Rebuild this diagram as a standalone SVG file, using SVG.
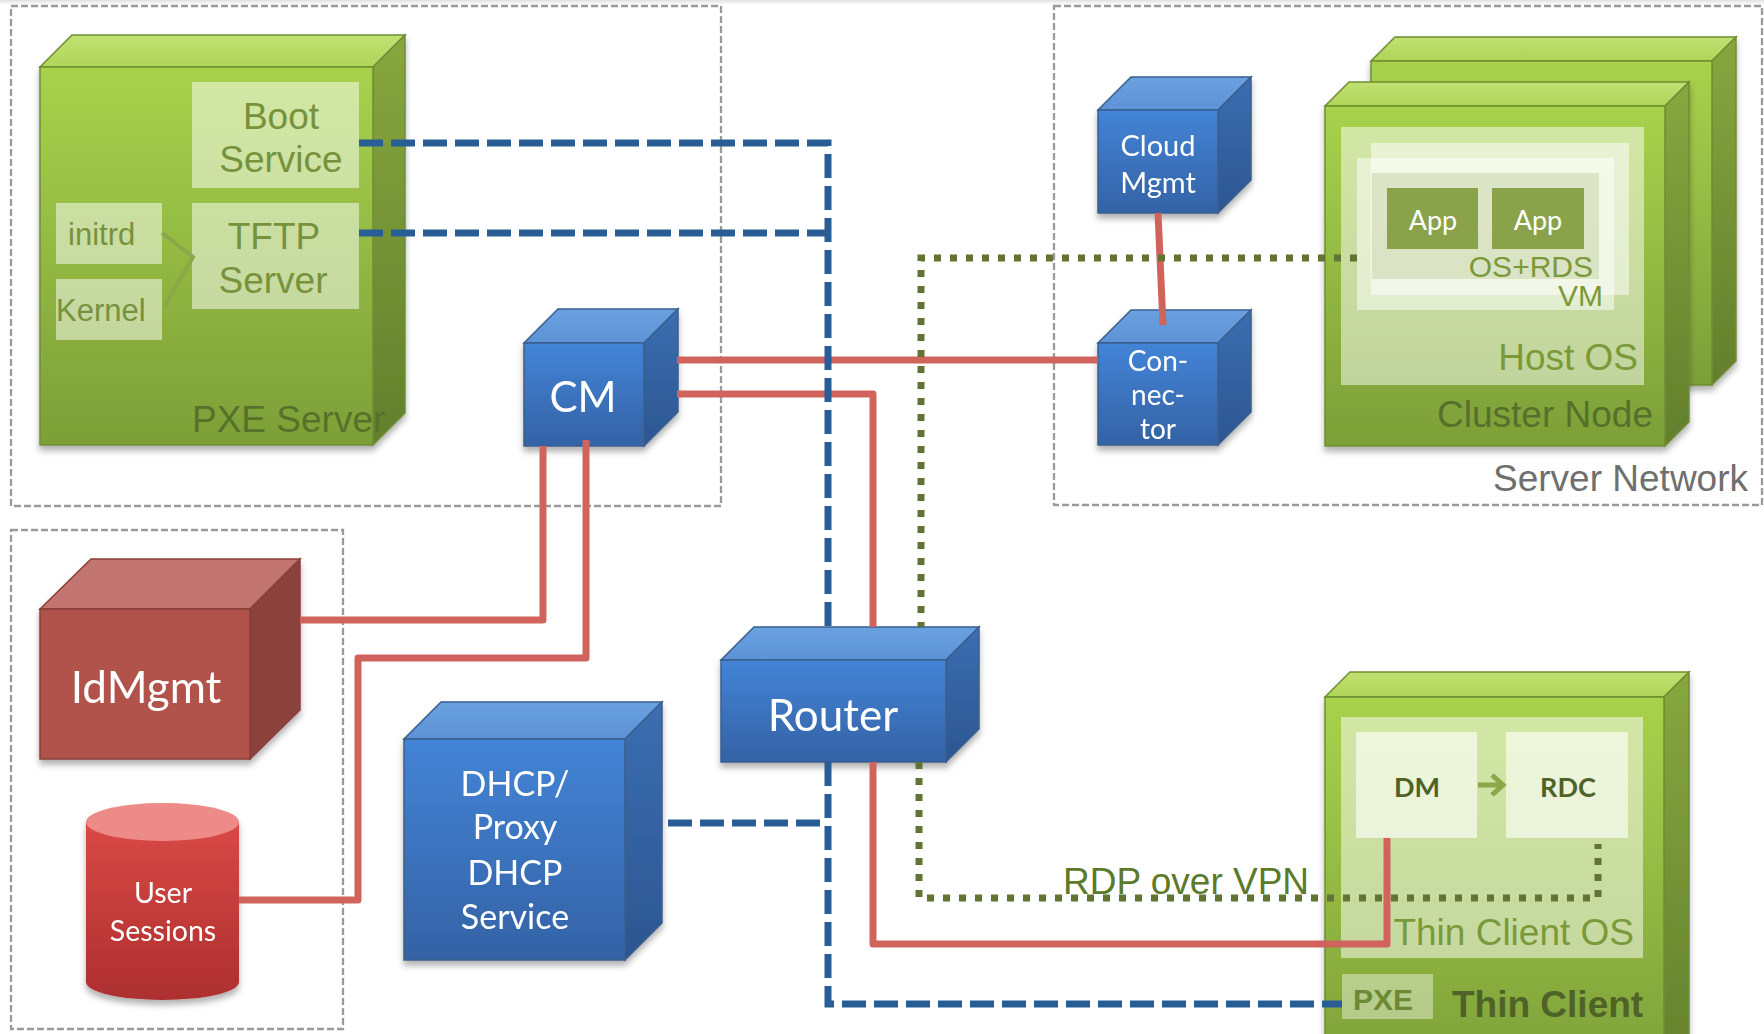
<svg xmlns="http://www.w3.org/2000/svg" width="1764" height="1034" viewBox="0 0 1764 1034">
<defs>
<linearGradient id="bF" x1="0" y1="0" x2="0" y2="1"><stop offset="0" stop-color="#4384d6"/><stop offset="1" stop-color="#3462a5"/></linearGradient>
<linearGradient id="bT" x1="0" y1="0" x2="0" y2="1"><stop offset="0" stop-color="#6aa1e0"/><stop offset="1" stop-color="#5d93d6"/></linearGradient>
<linearGradient id="bR" x1="0" y1="0" x2="0" y2="1"><stop offset="0" stop-color="#3b6eb1"/><stop offset="1" stop-color="#2c5690"/></linearGradient>
<linearGradient id="gF" x1="0" y1="0" x2="0" y2="1"><stop offset="0" stop-color="#a8d24c"/><stop offset="1" stop-color="#7c9f38"/></linearGradient>
<linearGradient id="gT" x1="0" y1="0" x2="0" y2="1"><stop offset="0" stop-color="#c0e173"/><stop offset="1" stop-color="#afd557"/></linearGradient>
<linearGradient id="gR" x1="0" y1="0" x2="0" y2="1"><stop offset="0" stop-color="#87a73f"/><stop offset="1" stop-color="#627f2c"/></linearGradient>
<linearGradient id="cyl" x1="0" y1="0" x2="0" y2="1"><stop offset="0" stop-color="#d94946"/><stop offset="1" stop-color="#ad2f2f"/></linearGradient>
<linearGradient id="topband" x1="0" y1="0" x2="0" y2="1"><stop offset="0" stop-color="#e2e2e2"/><stop offset="1" stop-color="#ffffff"/></linearGradient>
<filter id="sh" x="-10%" y="-10%" width="125%" height="125%"><feDropShadow dx="0" dy="5" stdDeviation="3" flood-color="#000" flood-opacity="0.3"/></filter>
<style>
.region{fill:none;stroke:#9a9a9a;stroke-width:2.3;stroke-dasharray:7 3}
.bl .t{fill:url(#bT)} .bl .f{fill:url(#bF)} .bl .r{fill:url(#bR)}
.bl polygon,.bl rect.f{stroke:#3a5e8e;stroke-width:1.5}
.gr .t{fill:url(#gT)} .gr .f{fill:url(#gF)} .gr .r{fill:url(#gR)}
.gr polygon,.gr rect.f{stroke:#6f8d35;stroke-width:1.5}
.wt{font-family:Lato,"Open Sans","DejaVu Sans",sans-serif;fill:#ffffff;text-anchor:middle}
.ar{font-family:"Liberation Sans",Arial,sans-serif}
.lite{fill:#ffffff;fill-opacity:0.5}
.blue{fill:none;stroke:#285d95;stroke-width:7;stroke-dasharray:24 8}
.red{fill:none;stroke:#d0645c;stroke-width:7;stroke-linejoin:round}
.grn{fill:none;stroke:#617433;stroke-width:7;stroke-dasharray:7 9}
</style>
</defs>
<rect width="1764" height="1034" fill="#ffffff"/>
<rect width="1764" height="5" fill="url(#topband)"/>

<g id="regions">
<rect class="region" x="11" y="6" width="710" height="500"/>
<rect class="region" x="1054" y="6" width="708" height="499"/>
<rect class="region" x="11" y="530" width="332" height="499"/>
</g>

<g id="pxe-server" class="gr" filter="url(#sh)">
<polygon class="t" points="40,67 72,35 405,35 373,67"/>
<polygon class="r" points="373,67 405,35 405,413 373,445"/>
<rect class="f" x="40" y="67" width="333" height="378"/>
</g>
<g id="pxe-server-content">
<rect class="lite" x="192" y="82" width="167" height="106"/>
<rect class="lite" x="192" y="203" width="167" height="106"/>
<rect class="lite" x="56" y="203" width="106" height="61"/>
<rect class="lite" x="56" y="279" width="106" height="61"/>
<polyline points="162,233 193,257 164,307" fill="none" stroke="#8aa84a" stroke-width="4"/>
<g class="ar" fill="#76923c" font-size="37" text-anchor="middle">
<text x="281" y="129">Boot</text><text x="281" y="172">Service</text>
<text x="274" y="249">TFTP</text><text x="273" y="293">Server</text>
</g>
<g class="ar" fill="#76923c" font-size="31">
<text x="68" y="245">initrd</text><text x="56" y="321">Kernel</text>
</g>
<text class="ar" x="192" y="432" font-size="37" fill="#56722a">PXE Server</text>
</g>

<g id="cm" class="bl" filter="url(#sh)">
<polygon class="t" points="524,343 558,309 678,309 644,343"/>
<polygon class="r" points="644,343 678,309 678,412 644,446"/>
<rect class="f" x="524" y="343" width="120" height="103"/>
<text class="wt" x="583" y="412" font-size="42">CM</text>
</g>

<g id="cloud-mgmt" class="bl" filter="url(#sh)">
<polygon class="t" points="1098,110 1131,77 1251,77 1218,110"/>
<polygon class="r" points="1218,110 1251,77 1251,180 1218,213"/>
<rect class="f" x="1098" y="110" width="120" height="103"/>
<text class="wt" x="1158" y="156" font-size="29">Cloud</text>
<text class="wt" x="1158" y="193" font-size="29">Mgmt</text>
</g>

<g id="connector" class="bl" filter="url(#sh)">
<polygon class="t" points="1098,343 1131,310 1251,310 1218,343"/>
<polygon class="r" points="1218,343 1251,310 1251,412 1218,445"/>
<rect class="f" x="1098" y="343" width="120" height="102"/>
<text class="wt" x="1158" y="371" font-size="28">Con-</text>
<text class="wt" x="1158" y="405" font-size="28">nec-</text>
<text class="wt" x="1158" y="439" font-size="28">tor</text>
</g>

<g id="cluster-node-back" class="gr" filter="url(#sh)">
<polygon class="t" points="1371,61 1395,37 1736,37 1712,61"/>
<polygon class="r" points="1712,61 1736,37 1736,361 1712,385"/>
<rect class="f" x="1371" y="61" width="341" height="324"/>
</g>
<g id="cluster-node" class="gr" filter="url(#sh)">
<polygon class="t" points="1325,106 1349,82 1689,82 1665,106"/>
<polygon class="r" points="1665,106 1689,82 1689,422 1665,446"/>
<rect class="f" x="1325" y="106" width="340" height="340"/>
</g>
<g id="cluster-node-content">
<rect class="lite" x="1341" y="127" width="303" height="258"/>
<rect class="lite" x="1371" y="143" width="258" height="152"/>
<rect class="lite" x="1357" y="158" width="257" height="152"/>
<rect x="1372" y="173" width="227" height="106" fill="#c6d4a6" fill-opacity="0.55"/>
<rect x="1387" y="188" width="91" height="61" fill="#8aa24a"/>
<rect x="1492" y="188" width="92" height="61" fill="#8aa24a"/>
<text class="wt" x="1433" y="230" font-size="27">App</text>
<text class="wt" x="1538" y="230" font-size="27">App</text>
<g class="ar" fill="#7a9a3a" text-anchor="end">
<text x="1593" y="277" font-size="30">OS+RDS</text>
<text x="1603" y="306" font-size="30">VM</text>
<text x="1638" y="370" font-size="37">Host OS</text>
</g>
<text class="ar" x="1653" y="427" font-size="37" fill="#56702a" text-anchor="end">Cluster Node</text>
<text class="ar" x="1748" y="491" font-size="37" fill="#6f6f6f" text-anchor="end">Server Network</text>
</g>

<g id="idmgmt" filter="url(#sh)">
<polygon points="40,609 91,559 300,559 250,609" fill="#c27570" stroke="#8a3f3a" stroke-width="1.5"/>
<polygon points="250,609 300,559 300,710 250,759" fill="#8b433d" stroke="#8a3f3a" stroke-width="1.5"/>
<rect x="40" y="609" width="210" height="150" fill="#b1524b" stroke="#8a3f3a" stroke-width="1.5"/>
<text class="wt" x="146" y="703" font-size="44">IdMgmt</text>
</g>

<g id="user-sessions" filter="url(#sh)">
<path d="M86,822 V982 A76.5,18 0 0 0 239,982 V822 Z" fill="url(#cyl)"/>
<ellipse cx="162.5" cy="822" rx="76.5" ry="19" fill="#ec8b88"/>
<text class="wt" x="163" y="903" font-size="28.5">User</text>
<text class="wt" x="163" y="941" font-size="28.5">Sessions</text>
</g>

<g id="dhcp" class="bl" filter="url(#sh)">
<polygon class="t" points="404,739 441,702 662,702 625,739"/>
<polygon class="r" points="625,739 662,702 662,923 625,960"/>
<rect class="f" x="404" y="739" width="221" height="221"/>
<text class="wt" x="515" y="796" font-size="34">DHCP/</text>
<text class="wt" x="515" y="839" font-size="34">Proxy</text>
<text class="wt" x="515" y="885" font-size="34">DHCP</text>
<text class="wt" x="515" y="929" font-size="34">Service</text>
</g>

<g id="router" class="bl" filter="url(#sh)">
<polygon class="t" points="721,660 754,627 979,627 946,660"/>
<polygon class="r" points="946,660 979,627 979,729 946,762"/>
<rect class="f" x="721" y="660" width="225" height="102"/>
<text class="wt" x="833" y="731" font-size="44">Router</text>
</g>

<g id="thin-client" class="gr" filter="url(#sh)">
<polygon class="t" points="1325,697 1350,672 1689,672 1664,697"/>
<polygon class="r" points="1664,697 1689,672 1689,1060 1664,1085"/>
<rect class="f" x="1325" y="697" width="339" height="390"/>
</g>
<g id="thin-client-content">
<rect class="lite" x="1341" y="717" width="302" height="241"/>
<rect x="1356" y="732" width="121" height="106" fill="#ffffff" fill-opacity="0.6"/>
<rect x="1506" y="732" width="122" height="106" fill="#ffffff" fill-opacity="0.6"/>
<g fill="none" stroke="#8aa84a" stroke-width="5">
<line x1="1478" y1="785" x2="1502" y2="785"/>
<polyline points="1492,775 1503,785 1492,795"/>
</g>
<g font-family="Lato,'Open Sans',sans-serif" font-weight="bold" font-size="27" fill="#4f6228" text-anchor="middle">
<text x="1417" y="797">DM</text><text x="1568" y="797">RDC</text>
</g>
<text class="ar" x="1634" y="945" font-size="37" fill="#7a9a3a" text-anchor="end">Thin Client OS</text>
<rect x="1342" y="974" width="91" height="45" fill="#ffffff" fill-opacity="0.4"/>
<text class="ar" x="1353" y="1010" font-size="30" font-weight="bold" fill="#6b8a33">PXE</text>
<text class="ar" x="1452" y="1017" font-size="37" font-weight="bold" fill="#4f6228">Thin Client</text>
</g>

<g id="connectors">
<path class="red" d="M677,360 H1098"/>
<path class="red" d="M677,394 H873 V627"/>
<path class="red" d="M873,762 V944 H1387 V838"/>
<path class="red" d="M543,446 V620 H300"/>
<path class="red" d="M586,440 V658 H358 V900 H239"/>
<path class="red" d="M1158,213 L1163,325"/>
<path class="blue" d="M359,143 H828 V627"/>
<path class="blue" d="M359,233 H828"/>
<path class="blue" d="M668,823 H828"/>
<path class="blue" d="M828,762 V1004 H1342"/>
<path class="grn" d="M1357,258 H921 V627"/>
<path class="grn" d="M919,762 V898 H1598 V844"/>
<text class="ar" x="1063" y="894" font-size="37" fill="#5b7a2a">RDP over VPN</text>
</g>
</svg>
